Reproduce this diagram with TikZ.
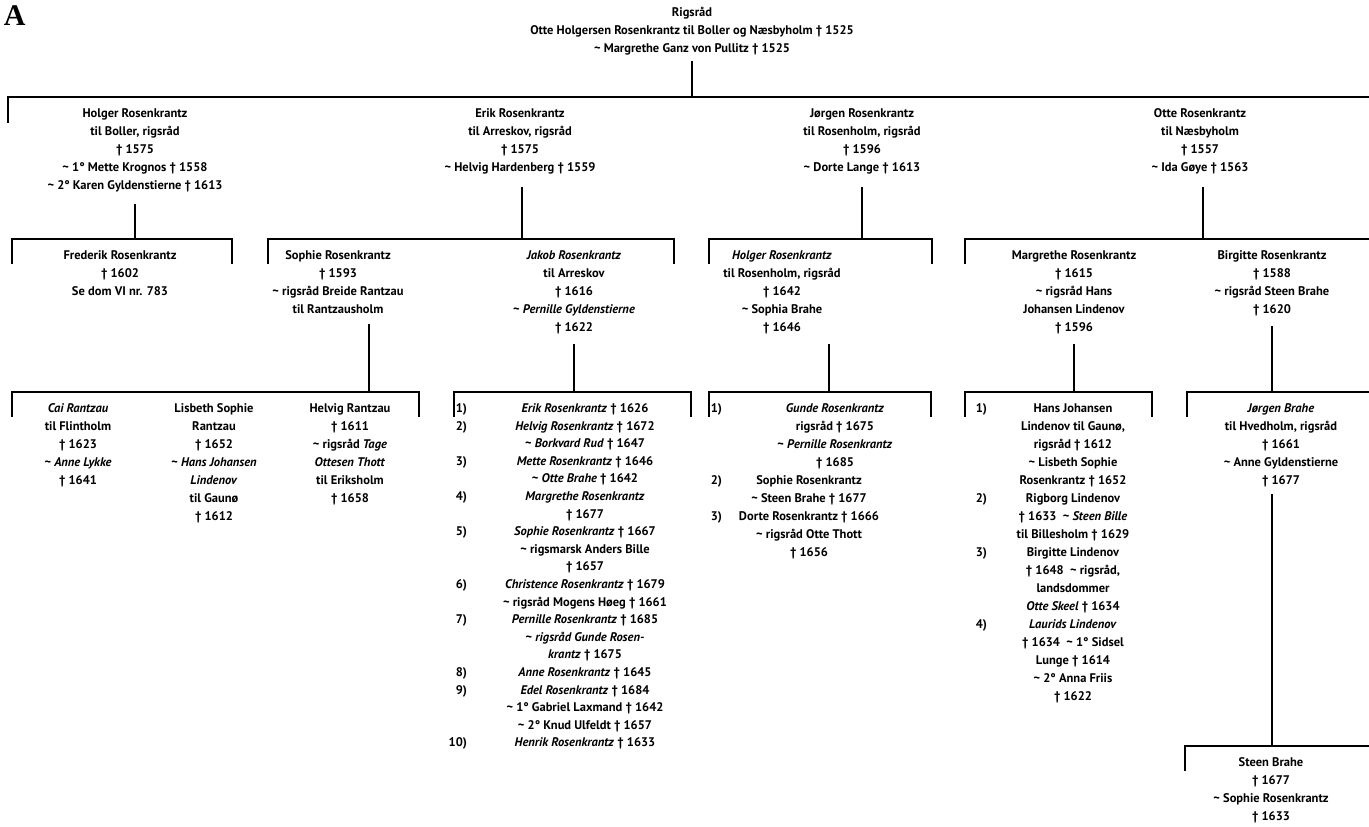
\documentclass[tikz,border=0pt]{standalone}
\usepackage{fontspec}
\setmainfont{PT Sans}
\newfontfamily\Afont{Liberation Serif}
\newcommand\Tld{\textasciitilde}
\newcommand\FLs{\rule{0pt}{10pt}}
\tikzset{
  every node/.style={inner sep=0pt, outer sep=0pt},
  txt/.style={font=\fontsize{12.5}{18}\selectfont\bfseries, align=center, anchor=north},
  num/.style={font=\fontsize{12.5}{18}\selectfont\bfseries, align=right, anchor=north east},
  tight/.style={font=\fontsize{12.5}{17.6}\selectfont\bfseries},
  tree/.style={line width=1.3pt, line cap=rect},
}
\begin{document}
\begin{tikzpicture}[x=1pt,y=-1pt]
\useasboundingbox (0,0) rectangle (1369,827);
\node[font=\Afont\bfseries\fontsize{30}{30}\selectfont, anchor=north west] (lab) at (4,6) {A};
% ---------- level 0
\node[txt] (root) at (692,6.5) {\FLs Rigsråd\\Otte Holgersen Rosenkrantz til Boller og Næsbyholm † 1525\\\Tld{} Margrethe Ganz von Pullitz † 1525};
% ---------- level 1
\node[txt] (holger) at (135,107.5) {\FLs Holger Rosenkrantz\\til Boller, rigsråd\\† 1575\\\Tld{} 1° Mette Krognos † 1558\\\Tld{} 2° Karen Gyldenstierne † 1613};
\node[txt] (erik) at (520,107.5) {\FLs Erik Rosenkrantz\\til Arreskov, rigsråd\\† 1575\\\Tld{} Helvig Hardenberg † 1559};
\node[txt] (jorgen) at (862,107.5) {\FLs Jørgen Rosenkrantz\\til Rosenholm, rigsråd\\† 1596\\\Tld{} Dorte Lange † 1613};
\node[txt] (otte) at (1200,107.5) {\FLs Otte Rosenkrantz\\til Næsbyholm\\† 1557\\\Tld{} Ida Gøye † 1563};
% ---------- level 2
\node[txt] (frederik) at (120,249.5) {\FLs Frederik Rosenkrantz\\† 1602\\Se dom VI nr. 783};
\node[txt] (sophie) at (338,249.5) {\FLs Sophie Rosenkrantz\\† 1593\\\Tld{} rigsråd Breide Rantzau\\til Rantzausholm};
\node[txt] (jakob) at (574,249.5) {\FLs\textit{Jakob Rosenkrantz}\\til Arreskov\\† 1616\\\Tld{} \textit{Pernille Gyldenstierne}\\† 1622};
\node[txt] (holgerr) at (782,249.5) {\FLs\textit{Holger Rosenkrantz}\\til Rosenholm, rigsråd\\† 1642\\\Tld{} Sophia Brahe\\† 1646};
\node[txt] (margrethe) at (1074,249.5) {\FLs Margrethe Rosenkrantz\\† 1615\\\Tld{} rigsråd Hans\\Johansen Lindenov\\† 1596};
\node[txt] (birgitte) at (1272,249.5) {\FLs Birgitte Rosenkrantz\\† 1588\\\Tld{} rigsråd Steen Brahe\\† 1620};
% ---------- level 3
\node[txt] (cai) at (78,402.5) {\FLs\textit{Cai Rantzau}\\til Flintholm\\† 1623\\\Tld{} \textit{Anne Lykke}\\† 1641};
\node[txt] (lisbeth) at (214,402.5) {\FLs Lisbeth Sophie\\Rantzau\\† 1652\\\Tld{} \textit{Hans Johansen}\\\textit{Lindenov}\\til Gaunø\\† 1612};
\node[txt] (helvig) at (350,402.5) {\FLs Helvig Rantzau\\† 1611\\\Tld{} rigsråd \textit{Tage}\\\textit{Ottesen Thott}\\til Eriksholm\\† 1658};
\node[num,tight] (jnum) at (467,402.5) {\FLs 1)\\2)\\\mbox{}\\3)\\\mbox{}\\4)\\\mbox{}\\5)\\\mbox{}\\\mbox{}\\6)\\\mbox{}\\7)\\\mbox{}\\\mbox{}\\8)\\9)\\\mbox{}\\\mbox{}\\10)};
\node[txt,tight] (jkids) at (585,402.5) {\FLs\textit{Erik Rosenkrantz} † 1626\\
\textit{Helvig Rosenkrantz} † 1672\\\Tld{} \textit{Borkvard Rud} † 1647\\
\textit{Mette Rosenkrantz} † 1646\\\Tld{} \textit{Otte Brahe} † 1642\\
\textit{Margrethe Rosenkrantz}\\† 1677\\
\textit{Sophie Rosenkrantz} † 1667\\\Tld{} rigsmarsk Anders Bille\\† 1657\\
\textit{Christence Rosenkrantz} † 1679\\\Tld{} rigsråd Mogens Høeg † 1661\\
\textit{Pernille Rosenkrantz} † 1685\\\Tld{} \textit{rigsråd Gunde Rosen-}\\\textit{krantz} † 1675\\
\textit{Anne Rosenkrantz} † 1645\\
\textit{Edel Rosenkrantz} † 1684\\\Tld{} 1° Gabriel Laxmand † 1642\\\Tld{} 2° Knud Ulfeldt † 1657\\
\textit{Henrik Rosenkrantz} † 1633};
\node[num] (hnum) at (722,402.5) {\FLs 1)\\\mbox{}\\\mbox{}\\\mbox{}\\2)\\\mbox{}\\3)};
\node[txt] (hkid1) at (835,402.5) {\FLs\textit{Gunde Rosenkrantz}\\rigsråd † 1675\\\Tld{} \textit{Pernille Rosenkrantz}\\† 1685};
\node[txt] (hkid2) at (809,474.5) {\FLs Sophie Rosenkrantz\\\Tld{} Steen Brahe † 1677\\Dorte Rosenkrantz † 1666\\\Tld{} rigsråd Otte Thott\\† 1656};
\node[num] (mnum) at (987,402.5) {\FLs 1)\\\mbox{}\\\mbox{}\\\mbox{}\\\mbox{}\\2)\\\mbox{}\\\mbox{}\\3)\\\mbox{}\\\mbox{}\\\mbox{}\\4)};
\node[txt] (mkids) at (1073,402.5) {\FLs Hans Johansen\\Lindenov til Gaunø,\\rigsråd † 1612\\\Tld{} Lisbeth Sophie\\Rosenkrantz † 1652\\
Rigborg Lindenov\\† 1633\enspace\Tld{} \textit{Steen Bille}\\til Billesholm † 1629\\
Birgitte Lindenov\\† 1648\enspace\Tld{} rigsråd,\\landsdommer\\\textit{Otte Skeel} † 1634\\
\textit{Laurids Lindenov}\\† 1634\enspace\Tld{} 1° Sidsel\\Lunge † 1614\\\Tld{} 2° Anna Friis\\† 1622};
\node[txt] (jbrahe) at (1281,402.5) {\FLs\textit{Jørgen Brahe}\\til Hvedholm, rigsråd\\† 1661\\\Tld{} Anne Gyldenstierne\\† 1677};
% ---------- level 4
\node[txt] (steen) at (1271,756.5) {\FLs Steen Brahe\\† 1677\\\Tld{} Sophie Rosenkrantz\\† 1633};
% ---------- connector coordinates
\coordinate (s0) at (692,62);
\coordinate (b1L) at (8,97); \coordinate (b1R) at (1369,97); \coordinate (d1L) at (8,122);
\coordinate (s1h) at (135,205); \coordinate (s1e) at (522,188);
\coordinate (s1j) at (862,188); \coordinate (s1o) at (1203,188);
\coordinate (b2a) at (12,239); \coordinate (b2b) at (232,239);
\coordinate (b2c) at (268,239); \coordinate (b2d) at (674,239);
\coordinate (b2e) at (709,239); \coordinate (b2f) at (932,239);
\coordinate (b2g) at (965,239); \coordinate (b2h) at (1369,239);
\coordinate (s2s) at (369,325); \coordinate (s2j) at (574,345);
\coordinate (s2h) at (829,345); \coordinate (s2m) at (1074,345);
\coordinate (s2b) at (1272,327);
\coordinate (b3a) at (12,392); \coordinate (b3b) at (419,392);
\coordinate (b3c) at (454,392); \coordinate (b3d) at (691,392);
\coordinate (b3e) at (709,392); \coordinate (b3f) at (931,392);
\coordinate (b3g) at (965,392); \coordinate (b3h) at (1152,392);
\coordinate (b3i) at (1187,392); \coordinate (b3j) at (1369,392);
\coordinate (s3b) at (1272,495);
\coordinate (b4a) at (1185,746); \coordinate (b4b) at (1369,746);
% ---------- connectors
\draw[tree] (s0) -- (s0 |- b1L);
\draw[tree] (d1L) -- (b1L) -- (b1R);
\foreach \s in {s1h,s1e,s1j,s1o} \draw[tree] (\s) -- (\s |- b2a);
\foreach \a/\b in {b2a/b2b,b2c/b2d,b2e/b2f} \draw[tree] ([yshift=-24pt]\a) -- (\a) -- (\b) -- ([yshift=-24pt]\b);
\draw[tree] ([yshift=-24pt]b2g) -- (b2g) -- (b2h);
\foreach \s in {s2s,s2j,s2h,s2m,s2b} \draw[tree] (\s) -- (\s |- b3a);
\foreach \a/\b in {b3a/b3b,b3c/b3d,b3e/b3f,b3g/b3h} \draw[tree] ([yshift=-24pt]\a) -- (\a) -- (\b) -- ([yshift=-24pt]\b);
\draw[tree] ([yshift=-24pt]b3i) -- (b3i) -- (b3j);
\draw[tree] (s3b) -- (s3b |- b4a);
\draw[tree] ([yshift=-24pt]b4a) -- (b4a) -- (b4b);
\end{tikzpicture}
\end{document}
